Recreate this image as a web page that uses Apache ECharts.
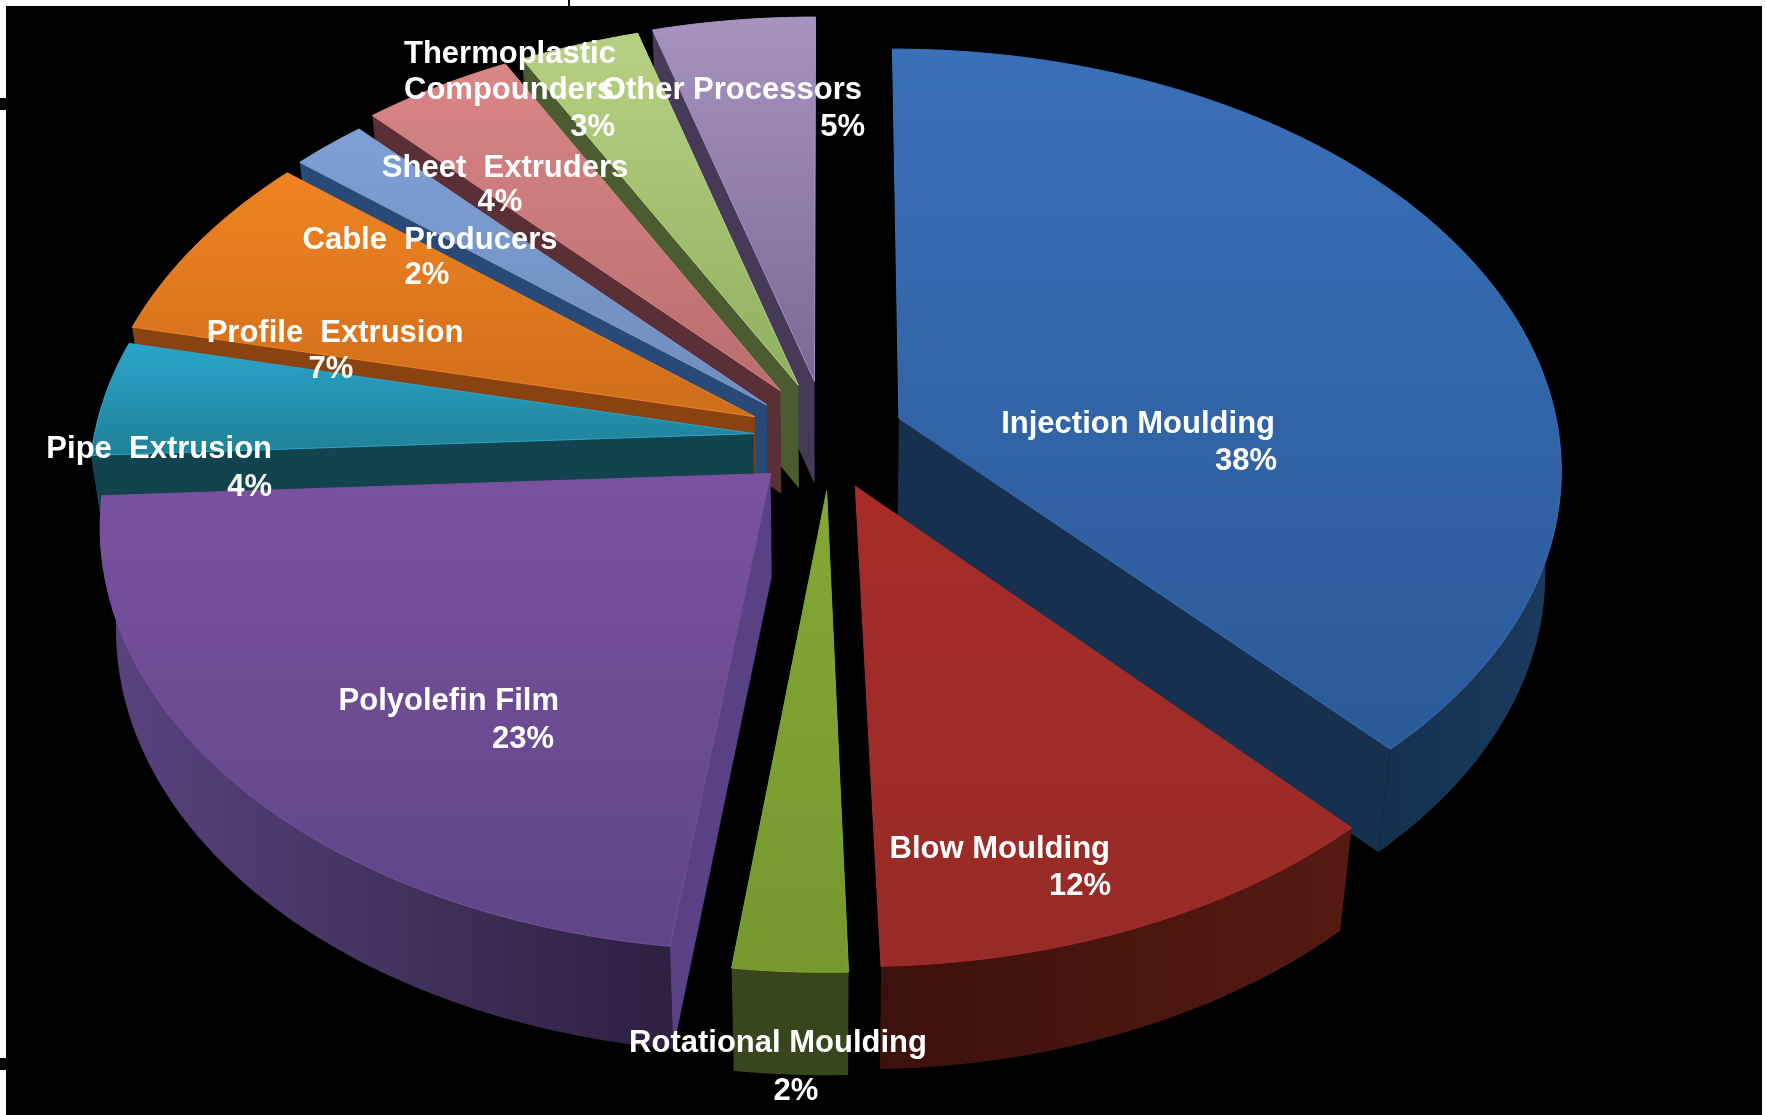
<!DOCTYPE html>
<html>
<head>
<meta charset="utf-8">
<title>Plastics processors by sector</title>
<style>html,body{margin:0;padding:0;background:#fff}#chart{width:1766px;height:1115px}</style>
<script src="https://cdn.jsdelivr.net/npm/echarts@6/dist/echarts.min.js"></script>
</head>
<body>
<div id="chart"></div>
<script>
// Share of processors per sector, clockwise from twelve o'clock.
const categories = ['Injection Moulding', 'Blow Moulding', 'Rotational Moulding', 'Polyolefin Film',
  'Pipe  Extrusion', 'Profile  Extrusion', 'Cable  Producers', 'Sheet  Extruders',
  'Thermoplastic Compounders', 'Other Processors'];
const values = [38, 12, 2, 23, 4, 7, 2, 4, 3, 5];

// Slice colours: top-face gradient, cut wall, outer wall gradient.
const faceTop = ['#3a70b9', '#a82c28', '#84a834', '#7a529f', '#2aa5cb', '#f08322', '#7f9fd6', '#d98686', '#b7d183', '#a792c0'];
const faceBottom = ['#2a5a98', '#962b27', '#74982e', '#5f4586', '#1f8096', '#cf6d1a', '#6f8dbb', '#b96d70', '#8fb05f', '#7c6895'];
const cutWall = ['#17304f', '#4a1410', '#38471b', '#5a4085', '#12444f', '#8a4310', '#294a76', '#5a2f35', '#4a5c30', '#463a58'];
const rimLeft = ['#14304e', '#3c110c', '#38471b', '#5a4380', '#1d6373', '#8a4310', '#294a76', '#5a2f35', '#4a5c30', '#463a58'];
const rimRight = ['#1b3c60', '#561a12', '#38471b', '#2e2040', '#12444f', '#8a4310', '#294a76', '#5a2f35', '#4a5c30', '#463a58'];

// Projection of the tilted disc onto the page.
const view = { cx: 833, cy: 436, radius: 660, tilt: 0.629, perspective: 0.115, depth: 103, footScale: 0.978, explode: 0.103 };

// Extra pull of each slice away from its neighbours, in pixels.
const slicePull = [[3, -2], [-3, 10], [-2, 12], [-11, 9], [-12, 3], [-18, 0], [-17, -2], [-13, -11], [-8, -12], [-8, -13]];

// Lens correction of the projection: degrees added at a given pie angle.
const lensAngles = [0, 137, 180, 187, 270, 284, 310, 331, 342, 360];
const lensShift = [0, 0.6, -1.7, 0, -3, -1.5, 0, 0.8, 1.9, 0];

// Angular range in which the outer wall can face the viewer.
const rimFrom = 75 * Math.PI / 180;
const rimTo = 285 * Math.PI / 180;

// Text placement for each label: two lines per slice, three for the compounders.
const labelLines = [
  [{ x: 1275, y: 424, align: 'right' }, { x: 1277, y: 461, align: 'right' }],
  [{ x: 1110, y: 849, align: 'right' }, { x: 1111, y: 886, align: 'right' }],
  [{ x: 778, y: 1043, align: 'center' }, { x: 796, y: 1091, align: 'center' }],
  [{ x: 559, y: 701, align: 'right' }, { x: 554, y: 739, align: 'right' }],
  [{ x: 272, y: 449, align: 'right' }, { x: 272, y: 487, align: 'right' }],
  [{ x: 335, y: 333, align: 'center' }, { x: 331, y: 369, align: 'center' }],
  [{ x: 430, y: 240, align: 'center' }, { x: 427, y: 275, align: 'center' }],
  [{ x: 505, y: 168, align: 'center' }, { x: 500, y: 202, align: 'center' }],
  [{ x: 404, y: 54, align: 'left' }, { x: 404, y: 90, align: 'left' }, { x: 615, y: 127, align: 'right' }],
  [{ x: 862, y: 90, align: 'right' }, { x: 865, y: 127, align: 'right' }]
];

const total = values.reduce((a, b) => a + b, 0);
const starts = [];
values.reduce((sum, v, i) => { starts[i] = sum; return sum + v; }, 0);

function lens(angle) {
  const deg = angle * 180 / Math.PI;
  for (let k = 1; k < lensAngles.length; k++) {
    if (deg <= lensAngles[k] + 1e-9) {
      const t = (deg - lensAngles[k - 1]) / (lensAngles[k] - lensAngles[k - 1]);
      return angle + (lensShift[k - 1] + (lensShift[k] - lensShift[k - 1]) * t) * Math.PI / 180;
    }
  }
  return angle;
}

function project(u, v, lowered, pull) {
  const p = 1 / (1 - view.perspective * v);
  const foot = lowered ? view.footScale : 1;
  return [
    view.cx + view.radius * u * p * foot + pull[0],
    view.cy + view.radius * view.tilt * v * p + (lowered ? view.depth : 0) + pull[1]
  ];
}

function renderSlice(params, api) {
  const i = params.dataIndex;
  const value = api.value(1);
  const a0 = starts[i] / total * Math.PI * 2;
  const a1 = (starts[i] + value) / total * Math.PI * 2;
  const mid = (a0 + a1) / 2;
  const ou = Math.sin(mid) * view.explode;
  const ov = -Math.cos(mid) * view.explode;
  const pull = slicePull[i];
  // Nearer slices paint over the farther ones.
  const z = Math.round((-Math.cos(mid) + 1) * 10) * 4 + 1;

  const arc = (from, to, lowered) => {
    const steps = Math.max(4, Math.ceil((to - from) / 0.02));
    const pts = [];
    for (let s = 0; s <= steps; s++) {
      const a = lens(from + (to - from) * s / steps);
      pts.push(project(ou + Math.sin(a), ov - Math.cos(a), lowered, pull));
    }
    return pts;
  };
  const edge = (a, lowered) => {
    const w = lens(a);
    return project(ou + Math.sin(w), ov - Math.cos(w), lowered, pull);
  };
  const apexTop = project(ou, ov, false, pull);
  const apexFoot = project(ou, ov, true, pull);

  const poly = (points, fill, zz, extra) => ({
    type: 'polygon', silent: true, z2: zz,
    shape: { points },
    style: Object.assign({ fill }, extra || {})
  });
  const rimFill = new echarts.graphic.LinearGradient(0, 0, 1, 0, [
    { offset: 0, color: rimLeft[i] }, { offset: 1, color: rimRight[i] }
  ]);
  const faceFill = new echarts.graphic.LinearGradient(0, 0, 0, 1, [
    { offset: 0, color: faceTop[i] }, { offset: 1, color: faceBottom[i] }
  ]);

  const children = [];
  const rimStart = Math.max(a0, rimFrom);
  const rimEnd = Math.min(a1, rimTo);
  if (rimEnd > rimStart) {
    children.push(poly(arc(rimStart, rimEnd, false).concat(arc(rimStart, rimEnd, true).reverse()), rimFill, z));
  }
  // A cut wall shows only when its edge runs away from the vertical towards the viewer's side.
  if (a0 > Math.PI + 1e-6) {
    children.push(poly([apexTop, edge(a0, false), edge(a0, true), apexFoot], cutWall[i], z + 1));
  }
  if (a1 < Math.PI - 1e-6) {
    children.push(poly([apexTop, edge(a1, false), edge(a1, true), apexFoot], cutWall[i], z + 1));
  }
  children.push(poly([apexTop].concat(arc(a0, a1, false)), faceFill, z + 2, { stroke: faceTop[i], lineWidth: 1 }));

  const name = categories[i];
  const lines = i === 8 ? name.split(' ') : [name];
  lines.push(value + '%');
  lines.forEach((text, n) => {
    const spot = labelLines[i][n];
    children.push({
      type: 'text', silent: true, z2: 200,
      style: {
        text, x: spot.x, y: spot.y, fill: '#ffffff',
        font: 'bold 31px "Liberation Sans", Arial, sans-serif',
        align: spot.align, verticalAlign: 'middle'
      }
    });
  });
  return { type: 'group', children };
}

const chart = echarts.init(document.getElementById('chart'), null, { renderer: 'canvas' });
chart.setOption({
  backgroundColor: '#ffffff',
  animation: false,
  graphic: { elements: [
    { type: 'rect', silent: true, z: 0, shape: { x: 6, y: 6, width: 1756, height: 1109 }, style: { fill: '#000000' } },
    { type: 'rect', silent: true, z: 0, shape: { x: 0, y: 98, width: 6, height: 12 }, style: { fill: '#000000' } },
    { type: 'rect', silent: true, z: 0, shape: { x: 0, y: 1058, width: 6, height: 12 }, style: { fill: '#000000' } },
    { type: 'rect', silent: true, z: 0, shape: { x: 568, y: 0, width: 2, height: 6 }, style: { fill: '#000000' } }
  ] },
  series: [{
    type: 'custom',
    coordinateSystem: 'none',
    z: 5,
    silent: true,
    renderItem: renderSlice,
    data: categories.map((c, i) => ({ name: c, value: [i, values[i]] }))
  }]
});
</script>
</body>
</html>
